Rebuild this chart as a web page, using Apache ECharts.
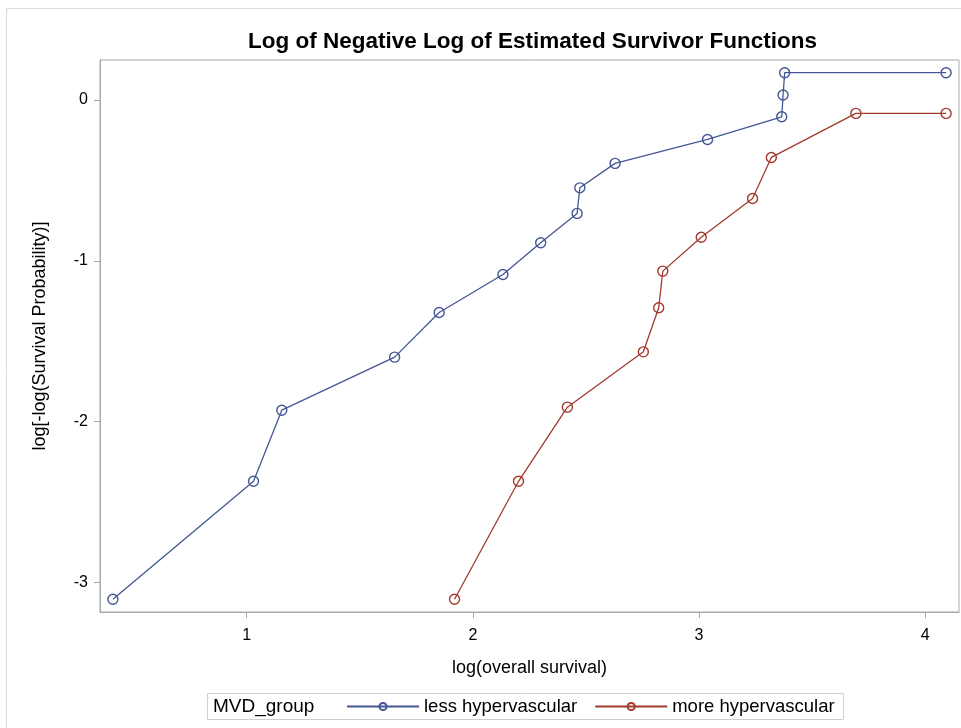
<!DOCTYPE html>
<html>
<head>
<meta charset="utf-8">
<script src="https://cdn.jsdelivr.net/npm/echarts@6/dist/echarts.min.js"></script>
<style>
  html, body { margin: 0; padding: 0; background: #ffffff; }
  #chart { width: 961px; height: 728px; }
</style>
</head>
<body>
<div id="chart"></div>
<script>
// log(overall survival) and log[-log(S)] per MVD group
const lessX = [0.408, 1.030, 1.155, 1.654, 1.851, 2.133, 2.300, 2.461, 2.473, 2.629, 3.038, 3.366, 3.372, 3.379, 4.093];
const lessY = [-3.105, -2.371, -1.929, -1.599, -1.321, -1.085, -0.888, -0.705, -0.546, -0.394, -0.245, -0.104, 0.031, 0.170, 0.170];
const moreX = [1.919, 2.202, 2.418, 2.754, 2.822, 2.840, 3.010, 3.237, 3.320, 3.694, 4.093];
const moreY = [-3.105, -2.371, -1.910, -1.566, -1.292, -1.064, -0.853, -0.612, -0.357, -0.083, -0.083];

const xTicks = [1, 2, 3, 4];
const yTicks = [-3, -2, -1, 0];
const groupNames = ['less hypervascular', 'more hypervascular'];

const pair = (xs, ys) => xs.map((x, i) => [x, ys[i]]);

const FONT = 'Liberation Sans, Arial, sans-serif';
const AXIS_GREY = '#a4a9b0';
const BLUE = '#445694';
const RED = '#a23a2e';

const chart = echarts.init(document.getElementById('chart'), null, { renderer: 'canvas' });

// hollow circle markers joined by a thin line
const seriesStyle = (color) => ({
  type: 'line',
  symbol: 'circle',
  symbolSize: 10,
  showAllSymbol: true,
  color: color,
  lineStyle: { color: color, width: 1.3 },
  itemStyle: { color: 'rgba(255,255,255,0)', borderColor: color, borderWidth: 1.4 },
  emphasis: { disabled: true },
  animation: false
});

chart.setOption({
  backgroundColor: '#ffffff',
  animation: false,
  title: {
    text: 'Log of Negative Log of Estimated Survivor Functions',
    left: 527.5,
    top: 25,
    textAlign: 'center',
    textStyle: { fontFamily: FONT, fontWeight: 'bold', fontSize: 22.5, color: '#000000' }
  },
  grid: {
    left: 100, top: 60, right: 2, bottom: 116,
    show: true, borderColor: AXIS_GREY, borderWidth: 1, backgroundColor: 'transparent'
  },
  xAxis: {
    type: 'value',
    min: 0.351,
    max: 4.150,
    name: 'log(overall survival)',
    nameLocation: 'middle',
    nameGap: 47,
    nameTextStyle: { fontFamily: FONT, fontSize: 18, color: '#000000' },
    axisLine: { show: true, onZero: false, lineStyle: { color: AXIS_GREY } },
    axisTick: { show: true, length: 6, lineStyle: { color: AXIS_GREY }, customValues: xTicks },
    axisLabel: { fontFamily: FONT, fontSize: 16, color: '#000000', margin: 16, customValues: xTicks },
    splitLine: { show: false }
  },
  yAxis: {
    type: 'value',
    min: -3.184,
    max: 0.249,
    name: 'log[-log(Survival Probability)]',
    nameLocation: 'middle',
    nameGap: 51,
    nameTextStyle: { fontFamily: FONT, fontSize: 18, color: '#000000' },
    axisLine: { show: true, onZero: false, lineStyle: { color: AXIS_GREY } },
    axisTick: { show: true, length: 6, lineStyle: { color: AXIS_GREY }, customValues: yTicks },
    axisLabel: { fontFamily: FONT, fontSize: 16, color: '#000000', margin: 12, customValues: yTicks },
    splitLine: { show: false }
  },
  legend: {
    data: groupNames,
    left: 346,
    top: 697,
    padding: 0,
    itemWidth: 72,
    itemHeight: 9,
    itemGap: 17,
    textStyle: { fontFamily: FONT, fontSize: 18.5, color: '#000000' },
    selectedMode: false
  },
  graphic: [
    { type: 'rect', silent: true, shape: { x: 6.5, y: 8.5, width: 1000, height: 1000 },
      style: { fill: 'none', stroke: '#d9d9d9', lineWidth: 1 } },
    { type: 'rect', silent: true, shape: { x: 207.5, y: 693.5, width: 636, height: 26 },
      style: { fill: 'none', stroke: '#cfcfcf', lineWidth: 1 } },
    { type: 'text', silent: true, left: 213, top: 697,
      style: { text: 'MVD_group', fontFamily: FONT, fontSize: 19, fill: '#000000' } }
  ],
  series: [
    Object.assign({ name: groupNames[0], data: pair(lessX, lessY) }, seriesStyle(BLUE)),
    Object.assign({ name: groupNames[1], data: pair(moreX, moreY) }, seriesStyle(RED))
  ]
});
</script>
</body>
</html>
